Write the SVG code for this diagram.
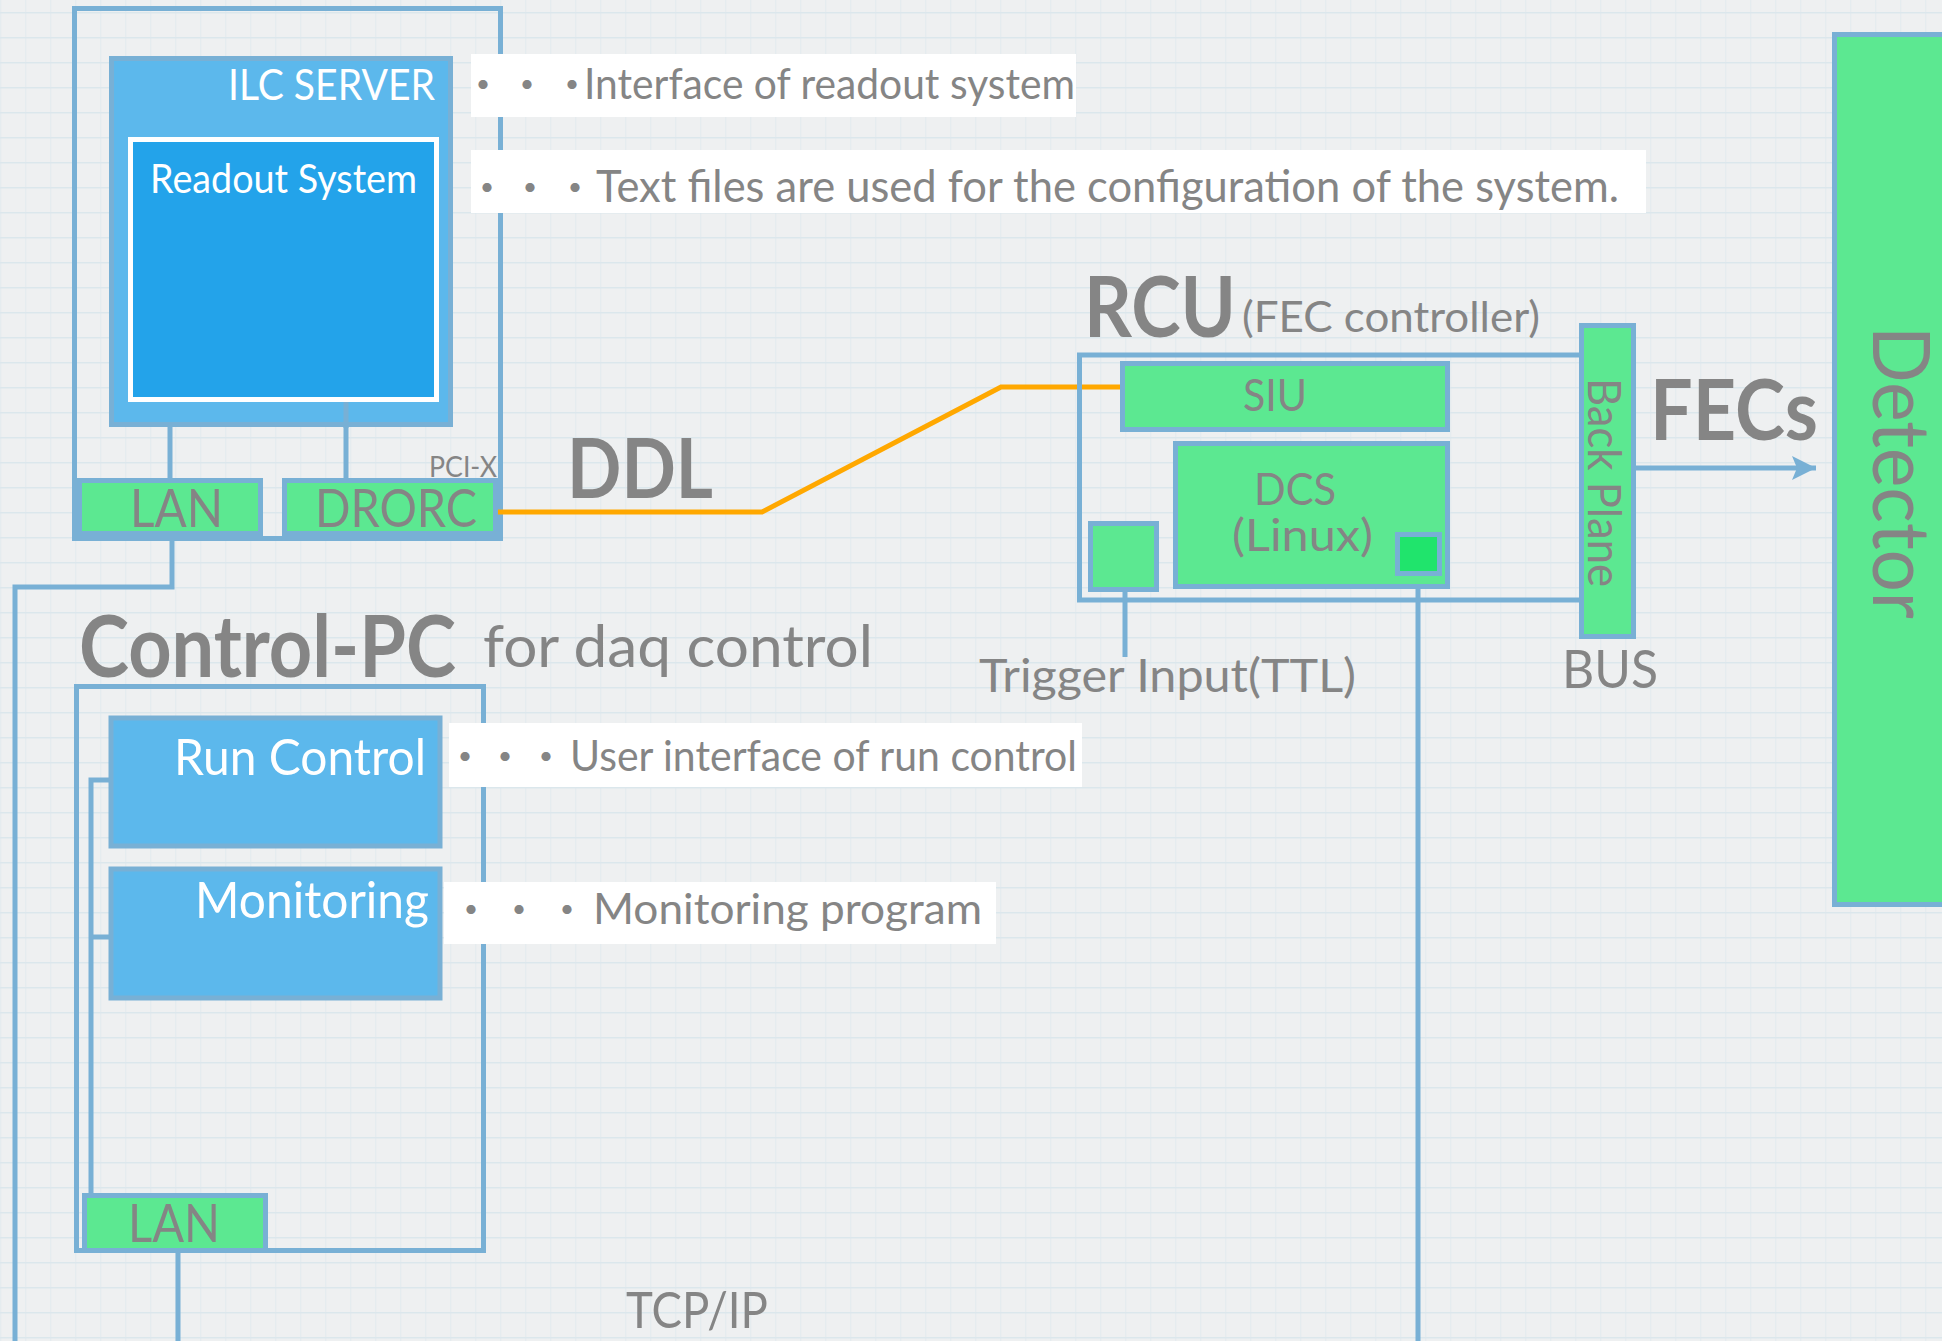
<svg xmlns="http://www.w3.org/2000/svg" width="1942" height="1341" viewBox="0 0 1942 1341">
  <defs>
    <pattern id="grid" x="0" y="12" width="25" height="25" patternUnits="userSpaceOnUse">
      <path d="M0,0.75 H25" stroke="#d3e2ea" stroke-width="1.5" opacity="0.7"/>
      <path d="M0.75,0 V25" stroke="#dce7ec" stroke-width="1.2" opacity="0.6"/>
    </pattern>
    <marker id="arrow" markerWidth="26" markerHeight="26" refX="24" refY="12" orient="auto" markerUnits="userSpaceOnUse">
      <path d="M0,0 L24,12 L0,24 L5,12 Z" fill="#78b0d5"/>
    </marker>
    <style>
      .t { font-family: Lato, "Liberation Sans", "Noto Sans CJK JP", sans-serif; fill: #858585; }
      .w { fill: #ffffff; }
      .b { font-weight: 700; }
      .dots { font-family: "Noto Sans CJK JP", sans-serif; fill: #858585; font-size: 43px; }
      .frame { fill: none; stroke: #78b0d5; stroke-width: 5; }
      .green { fill: #5ce891; stroke: #78b0d5; stroke-width: 5; }
      .lblue { fill: #5cb8ec; stroke: #78b0d5; stroke-width: 5; }
      .note { fill: #ffffff; }
      .wire { fill: none; stroke: #78b0d5; stroke-width: 5; }
      .ddl { fill: none; stroke: #ffa800; stroke-width: 5; }
    </style>
  </defs>

  <!-- graph-paper background -->
  <rect x="0" y="0" width="1942" height="1341" fill="#eef0f1"/>
  <rect x="0" y="0" width="1942" height="1341" fill="url(#grid)"/>

  <!-- ILC server machine -->
  <g id="ilc-pc">
    <rect class="frame" x="74.5" y="8.5" width="426" height="530"/>
  </g>

  <g id="connectors">
    <path class="wire" d="M170,427 V480"/>
    <path class="wire" d="M346,402 V480"/>
    <path class="wire" d="M172,536 V587 H15 V1341"/>
    <path class="ddl" d="M498,512 H762 L1001,387 H1121"/>
    <path class="wire" stroke-width="4.5" d="M1125,592 V657"/>
    <path class="wire" stroke-width="4.5" d="M1418,576 V1341"/>
    <path class="wire" stroke-width="4" d="M1636,468 H1816" marker-end="url(#arrow)"/>
    <path class="wire" d="M112,780 H91 V1195"/>
    <path class="wire" d="M112,937 H91"/>
    <path class="wire" stroke-width="4.5" d="M178,1253 V1341"/>
  </g>

  <g id="ilc-server">
    <rect class="lblue" x="111.5" y="58.5" width="339" height="366"/>
    <text class="t w" x="228" y="100" font-size="42" textLength="207" lengthAdjust="spacingAndGlyphs">ILC SERVER</text>
  </g>

  <g id="readout-system">
    <rect x="130.5" y="139.5" width="306" height="260" fill="#23a3ea" stroke="#ffffff" stroke-width="5"/>
    <text class="t w" x="150" y="193" font-size="40" textLength="267" lengthAdjust="spacingAndGlyphs">Readout System</text>
  </g>
  <path class="wire" d="M346,402 V428"/>

  <g id="lan-server">
    <rect class="green" x="79.5" y="480.5" width="181" height="53"/>
    <text class="t" x="130" y="527" font-size="52" textLength="93" lengthAdjust="spacingAndGlyphs">LAN</text>
  </g>

  <g id="drorc">
    <rect class="green" x="284.5" y="480.5" width="211" height="53"/>
    <text class="t" x="315" y="527" font-size="52" textLength="162" lengthAdjust="spacingAndGlyphs">DRORC</text>
    <text class="t" x="429" y="477" font-size="29" textLength="68" lengthAdjust="spacingAndGlyphs">PCI-X</text>
  </g>

  <g id="note-interface">
    <rect class="note" x="471" y="54" width="605" height="63"/>
    <text class="dots" x="483 527 572" y="101" text-anchor="middle">・・・</text>
    <text class="t" x="584" y="99" font-size="43" textLength="491" lengthAdjust="spacingAndGlyphs">Interface of readout system</text>
  </g>

  <g id="note-config">
    <rect class="note" x="471" y="150" width="1175" height="63"/>
    <text class="dots" x="487 530 575" y="204" text-anchor="middle">・・・</text>
    <text class="t" x="596" y="202" font-size="44" textLength="1023" lengthAdjust="spacingAndGlyphs">Text files are used for the configuration of the system.</text>
  </g>

  <g id="ddl-label">
    <text class="t b" x="567" y="498" font-size="82" textLength="146" lengthAdjust="spacingAndGlyphs">DDL</text>
  </g>

  <!-- RCU board -->
  <g id="rcu">
    <rect class="frame" x="1079.5" y="355" width="510" height="245"/>
    <text class="t b" x="1084" y="337" font-size="85" textLength="152" lengthAdjust="spacingAndGlyphs">RCU</text>
    <text class="t" x="1242" y="332" font-size="42" textLength="298" lengthAdjust="spacingAndGlyphs">(FEC controller)</text>
  </g>

  <g id="siu">
    <rect class="green" x="1122.5" y="363.5" width="325" height="66"/>
    <text class="t" x="1243" y="411" font-size="44" textLength="64" lengthAdjust="spacingAndGlyphs">SIU</text>
  </g>

  <g id="dcs">
    <rect class="green" x="1175.5" y="443.5" width="272" height="143"/>
    <text class="t" x="1254" y="505" font-size="44" textLength="82" lengthAdjust="spacingAndGlyphs">DCS</text>
    <text class="t" x="1232" y="551" font-size="44" textLength="141" lengthAdjust="spacingAndGlyphs">(Linux)</text>
  </g>

  <g id="dcs-port">
    <rect x="1397.5" y="534.5" width="42" height="39" fill="#20e46c" stroke="#78b0d5" stroke-width="5"/>
  </g>

  <g id="trigger-port">
    <rect class="green" x="1090.5" y="523.5" width="66" height="66"/>
    <text class="t" x="979" y="692" font-size="46" textLength="377" lengthAdjust="spacingAndGlyphs">Trigger Input(TTL)</text>
  </g>

  <g id="back-plane">
    <rect class="green" x="1581.5" y="325.5" width="52" height="311"/>
    <text class="t" transform="translate(1588,378) rotate(90)" x="0" y="0" font-size="46" textLength="209" lengthAdjust="spacingAndGlyphs">Back Plane</text>
    <text class="t" x="1562" y="688" font-size="52" textLength="96" lengthAdjust="spacingAndGlyphs">BUS</text>
  </g>

  <g id="fecs-label">
    <text class="t b" x="1650" y="440" font-size="84" textLength="168" lengthAdjust="spacingAndGlyphs">FECs</text>
  </g>

  <g id="detector">
    <rect class="green" x="1834.5" y="34.5" width="130" height="870"/>
    <text class="t" transform="translate(1873,326) rotate(90)" x="0" y="0" font-size="80" textLength="293" lengthAdjust="spacingAndGlyphs">Detector</text>
  </g>

  <!-- Control PC -->
  <g id="control-pc">
    <rect class="frame" x="76.5" y="686.5" width="407" height="564"/>
    <text class="t b" x="79" y="677" font-size="86" textLength="377" lengthAdjust="spacingAndGlyphs">Control-PC</text>
    <text class="t" x="483" y="667" font-size="58" textLength="390" lengthAdjust="spacingAndGlyphs">for daq control</text>
  </g>

  <g id="run-control">
    <rect class="lblue" x="111" y="718" width="329" height="128" stroke-width="4"/>
    <text class="t w" x="174" y="775" font-size="51" textLength="252" lengthAdjust="spacingAndGlyphs">Run Control</text>
  </g>

  <g id="monitoring">
    <rect class="lblue" x="111" y="869" width="329" height="129" stroke-width="4"/>
    <text class="t w" x="195" y="918" font-size="50" textLength="234" lengthAdjust="spacingAndGlyphs">Monitoring</text>
  </g>

  <g id="note-run-control">
    <rect class="note" x="449" y="723" width="633" height="64"/>
    <text class="dots" x="465 505 546" y="773" text-anchor="middle">・・・</text>
    <text class="t" x="570" y="771" font-size="43" textLength="507" lengthAdjust="spacingAndGlyphs">User interface of run control</text>
  </g>

  <g id="note-monitoring">
    <rect class="note" x="444" y="882" width="552" height="62"/>
    <text class="dots" x="471 519 567" y="926" text-anchor="middle">・・・</text>
    <text class="t" x="593" y="924" font-size="43" textLength="389" lengthAdjust="spacingAndGlyphs">Monitoring program</text>
  </g>

  <g id="lan-control">
    <rect class="green" x="84.5" y="1195.5" width="181" height="55"/>
    <text class="t" x="128" y="1242" font-size="52" textLength="92" lengthAdjust="spacingAndGlyphs">LAN</text>
  </g>

  <g id="tcpip-label">
    <text class="t" x="626" y="1328" font-size="51" textLength="142" lengthAdjust="spacingAndGlyphs">TCP/IP</text>
  </g>
</svg>
